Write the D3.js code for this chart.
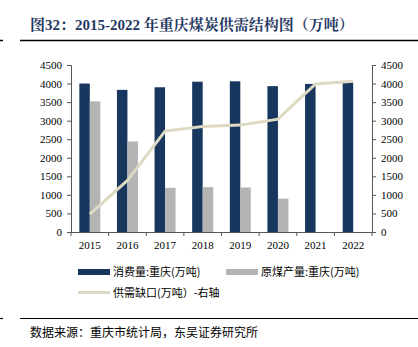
<!DOCTYPE html>
<html><head><meta charset="utf-8">
<script src="https://cdn.jsdelivr.net/npm/d3@7"></script>
<style>body{margin:0;background:#fff}svg{display:block}</style>
</head><body>
<script>
const years = ["2015","2016","2017","2018","2019","2020","2021","2022"];
const consumption = [4000,3830,3900,4050,4060,3930,3990,4040];
const production = [3520,2440,1190,1210,1200,900,null,null];
const gap = [480,1390,2720,2840,2880,3040,3990,4060];
const leftTicks = [0,500,1000,1500,2000,2500,3000,3500,4000,4500];
const rightTicks = [0,500,1000,1500,2000,2500,3000,3500,4000,4500];
const seriesNames = ["消费量:重庆(万吨)","原煤产量:重庆(万吨)","供需缺口(万吨）-右轴"];
const colors = ["#17375E","#B4B4B4","#DDD9C3"];

const W=418,H=347;
const svg=d3.select("body").append("svg").attr("width",W).attr("height",H);
const L=71,R=372,T=65,B=232;
const serif="'Liberation Serif','Times New Roman',serif";
const cjk="'Noto Sans CJK SC',sans-serif";

// title
svg.append("text").attr("x",30).attr("y",30).attr("font-family","'Liberation Serif','Noto Serif CJK SC','Noto Sans CJK SC',serif")
  .attr("font-weight","bold").attr("font-size",15).attr("fill","#1F3864").text("图32：2015-2022 年重庆煤炭供需结构图（万吨）");
svg.append("line").attr("x1",20).attr("x2",418).attr("y1",40.5).attr("y2",40.5).attr("stroke","#000").attr("stroke-width",1.5);
svg.append("line").attr("x1",0).attr("x2",3).attr("y1",40.5).attr("y2",40.5).attr("stroke","#000").attr("stroke-width",1.5);

const x=d3.scaleBand().domain(years).range([L,R]);
const yL=d3.scaleLinear().domain([0,4500]).range([B,T]);
const yR=d3.scaleLinear().domain([0,4500]).range([B,T]);
const bw=10.5;

const g=svg.append("g");
g.selectAll(".c").data(years).enter().append("rect")
  .attr("x",d=>x(d)+x.bandwidth()/2-bw).attr("width",bw)
  .attr("y",(d,i)=>yL(consumption[i])).attr("height",(d,i)=>B-yL(consumption[i]))
  .attr("fill",colors[0]);
g.selectAll(".p").data(years.filter((d,i)=>production[i]!=null)).enter().append("rect")
  .attr("x",d=>x(d)+x.bandwidth()/2).attr("width",bw)
  .attr("y",d=>yL(production[years.indexOf(d)])).attr("height",d=>B-yL(production[years.indexOf(d)]))
  .attr("fill",colors[1]);

const line=d3.line().x((d,i)=>x(years[i])+x.bandwidth()/2).y(d=>yR(d));
svg.append("path").attr("d",line(gap)).attr("fill","none").attr("stroke",colors[2]).attr("stroke-width",3);

// axes
const fmt=d3.format("d");
const axL=svg.append("g").attr("transform",`translate(${L},0)`).call(d3.axisLeft(yL).tickValues(leftTicks).tickFormat(fmt).tickSize(4).tickPadding(5));
const axR=svg.append("g").attr("transform",`translate(${R},0)`).call(d3.axisRight(yR).tickValues(rightTicks).tickFormat(fmt).tickSize(4).tickPadding(5));
const axB=svg.append("g").attr("transform",`translate(0,${B})`).call(d3.axisBottom(x).tickSize(0).tickPadding(9));
[axL,axR,axB].forEach(a=>{a.selectAll("text").attr("font-family",serif).attr("font-size",11).attr("fill","#000");
  a.selectAll("line,path").attr("stroke","#555");});
axB.select(".domain").attr("d",`M${L-4},0.5H${R+4}`);
// x ticks at band boundaries
axB.selectAll(".bt").data(years.concat(["end"])).enter().append("line")
  .attr("x1",(d,i)=>L+i*x.bandwidth()).attr("x2",(d,i)=>L+i*x.bandwidth()).attr("y1",0).attr("y2",4).attr("stroke","#555");

// legend
const lg=svg.append("g").attr("font-family",cjk).attr("font-size",11).attr("fill","#000");
lg.append("rect").attr("x",78).attr("y",269).attr("width",32).attr("height",6).attr("fill",colors[0]);
lg.append("text").attr("x",113).attr("y",276).text(seriesNames[0]);
lg.append("rect").attr("x",226).attr("y",269).attr("width",32).attr("height",6).attr("fill",colors[1]);
lg.append("text").attr("x",261).attr("y",276).text(seriesNames[1]);
lg.append("line").attr("x1",78).attr("x2",110).attr("y1",292.5).attr("y2",292.5).attr("stroke",colors[2]).attr("stroke-width",3);
lg.append("text").attr("x",113).attr("y",297).text(seriesNames[2]);

// footer
svg.append("line").attr("x1",20).attr("x2",418).attr("y1",318.5).attr("y2",318.5).attr("stroke","#000").attr("stroke-width",1.2);
svg.append("line").attr("x1",0).attr("x2",3).attr("y1",318.5).attr("y2",318.5).attr("stroke","#000").attr("stroke-width",1.2);
svg.append("text").attr("x",30).attr("y",337).attr("font-family",cjk).attr("font-size",12).attr("fill","#000").text("数据来源：重庆市统计局，东吴证券研究所");
</script>
</body></html>
